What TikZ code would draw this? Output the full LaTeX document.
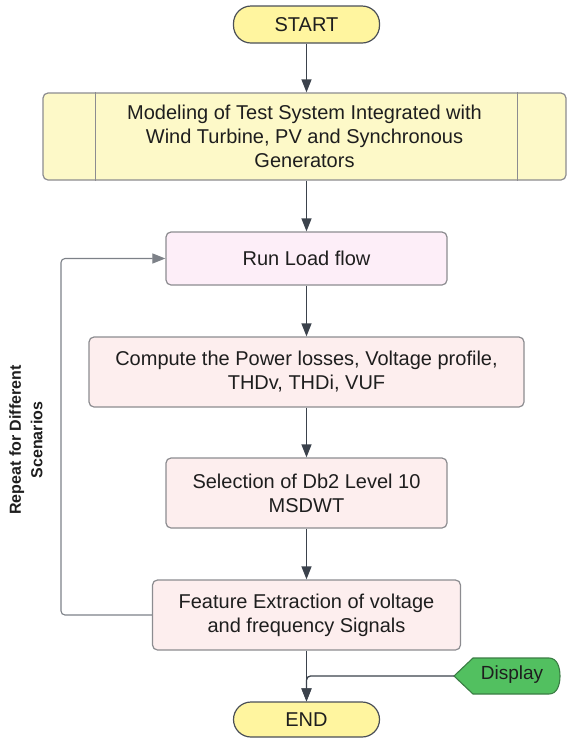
\documentclass[tikz,border=0pt]{standalone}
\usepackage{fontspec}
\setmainfont{Liberation Sans}
\usetikzlibrary{arrows.meta}

\definecolor{termfill}{HTML}{FFF59F}
\definecolor{termline}{HTML}{4A4F57}
\definecolor{modfill}{HTML}{FDF9C8}
\definecolor{runfill}{HTML}{FDEEF8}
\definecolor{procfill}{HTML}{FDEEEE}
\definecolor{boxline}{HTML}{8C8C90}
\definecolor{arrowcol}{HTML}{3B424C}
\definecolor{loopcol}{HTML}{7D8188}
\definecolor{dispfill}{HTML}{52C060}
\definecolor{displine}{HTML}{3A7D44}
\definecolor{txt}{HTML}{1E1E1E}

\begin{document}
\begin{tikzpicture}[x=1pt,y=-1pt,
  base/.style={draw=boxline, line width=1.2pt, rounded corners=5pt, align=center,
    text=txt, font=\fontsize{20}{24}\selectfont, inner sep=0pt},
  terminal/.style={base, draw=termline, fill=termfill, rounded corners=17.5pt,
    minimum width=146pt},
  process/.style={base, fill=procfill},
  flow/.style={draw=arrowcol, line width=1.3pt, -{Triangle[length=13pt,width=10pt]}},
  loopflow/.style={flow, draw=loopcol, line width=1.1pt, rounded corners=4pt},
  sidelabel/.style={rotate=90, align=center, text=txt,
    font=\bfseries\fontsize{16}{21.5}\selectfont}
]
\useasboundingbox (0,0) rectangle (567,740);

% terminals
\node[terminal, minimum height=37pt] (start) at (306.5,24.5) {START};
\node[terminal, minimum height=35pt] (end) at (306.5,719.5) {END};

% predefined process: modelling of the test system
\node[base, fill=modfill, minimum width=523pt, minimum height=87pt] (model) at (304.5,136.5)
  {Modeling of Test System Integrated with\\Wind Turbine, PV and Synchronous\\Generators};
\draw[draw=boxline, line width=1.2pt] ([xshift=53pt]model.north west) -- ([xshift=53pt]model.south west);
\draw[draw=boxline, line width=1.2pt] ([xshift=-49pt]model.north east) -- ([xshift=-49pt]model.south east);

% processing steps
\node[base, fill=runfill, minimum width=281pt, minimum height=53pt] (run) at (306.5,258.5) {Run Load flow};
\node[process, minimum width=435pt, minimum height=70pt] (comp) at (306.5,372)
  {Compute the Power losses, Voltage profile,\\THDv, THDi, VUF};
\node[process, minimum width=281pt, minimum height=70pt] (sel) at (306.5,493)
  {Selection of Db2 Level 10\\MSDWT};
\node[process, minimum width=308pt, minimum height=70pt] (feat) at (306.5,615)
  {Feature Extraction of voltage\\and frequency Signals};

% display symbol
\coordinate (dispL) at (454,676);
\draw[fill=dispfill, draw=displine, line width=1.1pt, line join=round]
  (dispL) -- (473,658) -- (549,658) .. controls (557,658) and (560,667) .. (560,676)
  .. controls (560,685) and (557,694) .. (549,694) -- (473,694) -- cycle;
\node[text=txt, font=\fontsize{19}{23}\selectfont, inner sep=0pt] (disp) at (512,675) {Display};

% main flow
\draw[flow] (start.south) -- (start.south |- model.north);
\draw[flow] (start.south |- model.south) -- (run.north);
\draw[flow] (run.south) -- (comp.north);
\draw[flow] (comp.south) -- (sel.north);
\draw[flow] (sel.south) -- (feat.north);
\draw[flow] (feat.south) -- (end.north);
\draw[flow, rounded corners=4pt] (dispL) -| (end.north);

% repetition loop
\coordinate (loopB) at (61,615);
\coordinate (loopT) at (61,258.5);
\draw[loopflow] (feat.west) -- (loopB) -- (loopT) -- (run.west);
\node[sidelabel] (rep) at (26,440) {Repeat for Different\\Scenarios};
\end{tikzpicture}
\end{document}
